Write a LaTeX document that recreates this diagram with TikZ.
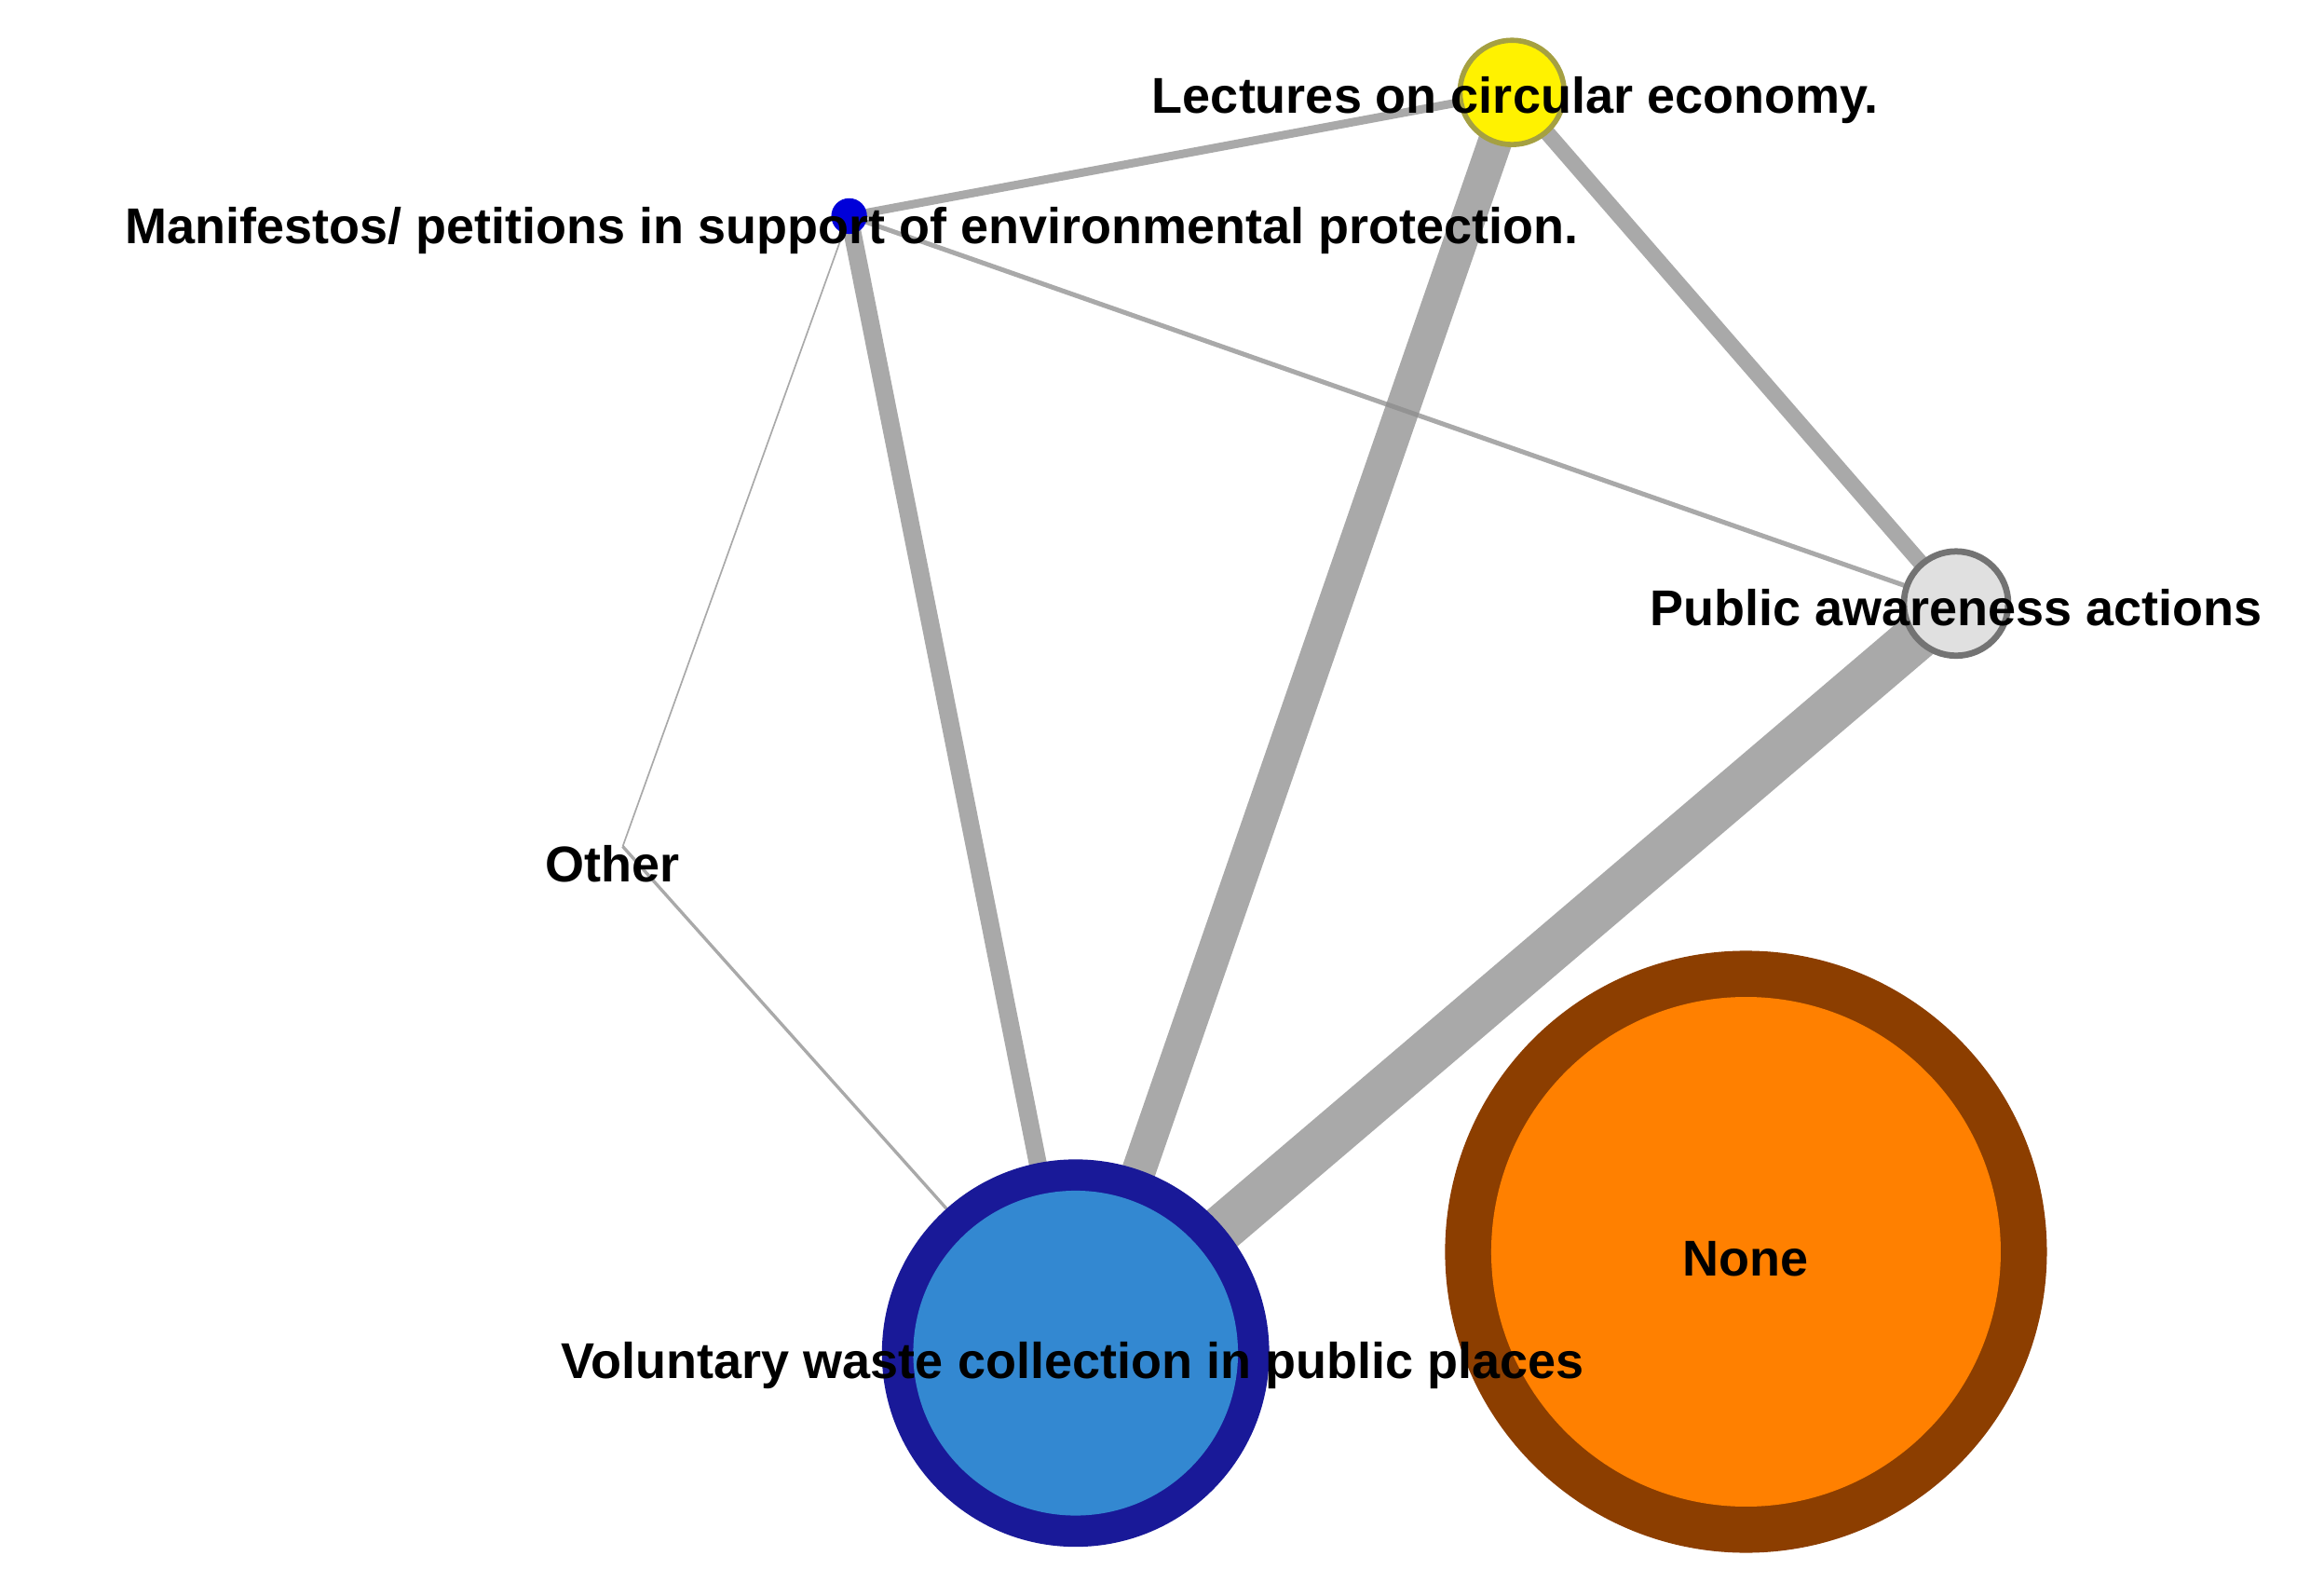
\documentclass[tikz,border=0pt]{standalone}
\usepackage{fontspec}
\setmainfont{Liberation Sans}
\begin{document}
\begin{tikzpicture}[x=0.01cm,y=-0.01cm,
  lbl/.style={font=\bfseries\fontsize{9.6}{11}\selectfont, text=black, inner sep=0pt},
  edge/.style={draw=black!45, opacity=0.75, line cap=butt}]
\useasboundingbox (0,0) rectangle (1560,1062);
\coordinate (lec) at (1015,62);
\coordinate (man) at (570,145);
\coordinate (pub) at (1313,405);
\coordinate (oth) at (418,568);
\coordinate (vol) at (722,908);
\coordinate (non) at (1172,840);
% edges
\draw[edge, line width=1.6pt] (man) -- (lec);
\draw[edge, line width=3.4pt] (man) -- (vol);
\draw[edge, line width=0.9pt] (man) -- (pub);
\draw[edge, line width=0.3pt] (man) -- (oth);
\draw[edge, line width=0.6pt] (oth) -- (vol);
\draw[edge, line width=6.5pt] (lec) -- (vol);
\draw[edge, line width=3pt] (lec) -- (pub);
\draw[edge, line width=9pt] (pub) -- (vol);
% nodes
\fill[draw=black!40!yellow, line width=1pt, fill=yellow] (lec) circle (35);
\fill[blue!85!black] (man) circle (12);
\filldraw[draw=black!55, fill=black!12, line width=1.2pt] (pub) circle (35);
\fill[blue!55!black!90] (vol) circle (130);
\fill[cyan!60!blue!85] (vol) circle (109);
\fill[fill={rgb,255:red,140;green,62;blue,0}] (non) circle (202);
\fill[fill={rgb,255:red,255;green,128;blue,0}] (non) circle (171);
% labels
\node[lbl] (llec) at (1017,67) {Lectures on circular economy.};
\node[lbl] (lman) at (572,155) {Manifestos/ petitions in support of environmental protection.};
\node[lbl] (lpub) at (1313,408) {Public awareness actions};
\node[lbl] (loth) at (411,580) {Other};
\node[lbl] (lvol) at (720,916) {Voluntary waste collection in public places};
\node[lbl] (lnon) at (1172,845) {None};
\end{tikzpicture}
\end{document}
